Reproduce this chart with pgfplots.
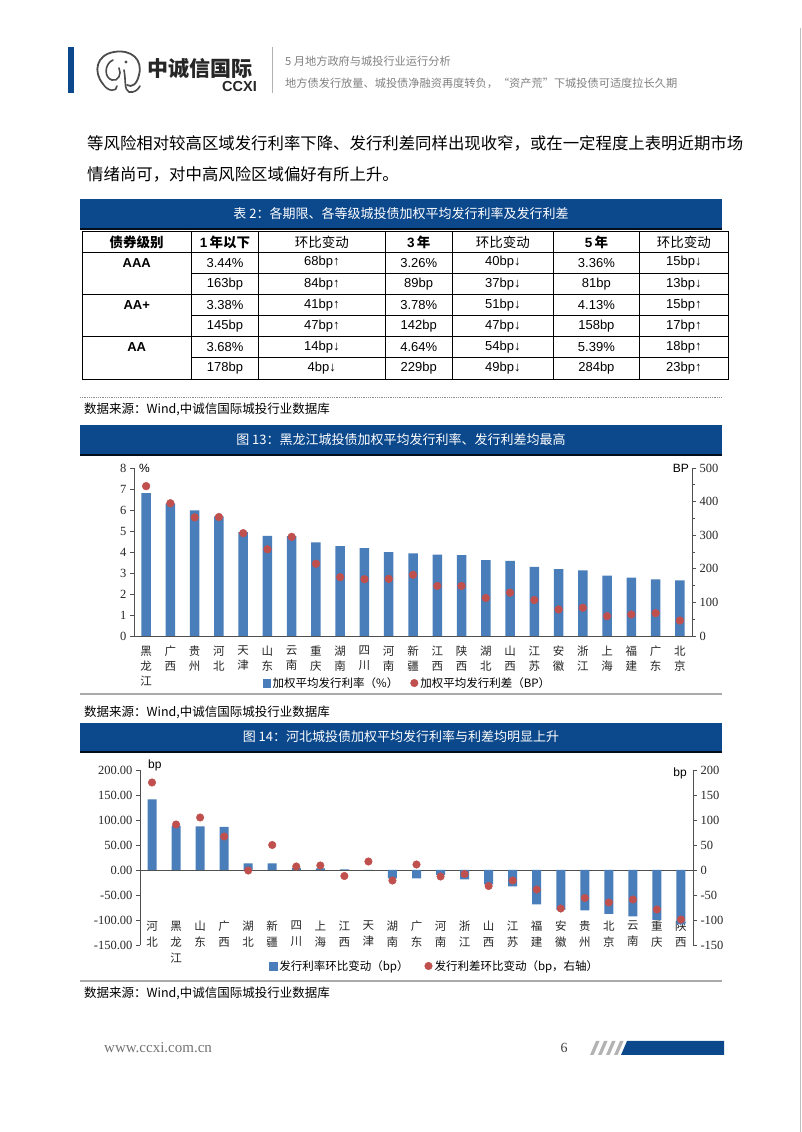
\documentclass[border=0pt]{standalone}
\usepackage{pgfplots}
\pgfplotsset{compat=1.18}
\usepackage{pgfplotstable}
\usepackage{fontspec}
\setmainfont{Liberation Serif}
\newfontfamily\cjk{Noto Sans CJK SC}
\newfontfamily\arial{Liberation Sans}
\newfontfamily\tnr{Liberation Serif}
\newcommand\fs[2]{\fontsize{#1pt}{#2pt}\selectfont}
\definecolor{titleblue}{RGB}{12,72,140}
\definecolor{barblue}{RGB}{74,126,187}
\definecolor{dotred}{RGB}{192,80,77}
\definecolor{hdrgrey}{RGB}{130,130,130}
\definecolor{axisgrey}{RGB}{80,80,80}
\definecolor{linegrey}{RGB}{170,170,170}

\pgfplotstableread{
idx rate spread
0 6.80 446
1 6.30 395
2 5.98 353
3 5.70 354
4 4.95 306
5 4.77 258
6 4.75 295
7 4.46 215
8 4.28 175
9 4.18 169
10 3.99 170
11 3.93 182
12 3.88 149
13 3.85 149
14 3.61 113
15 3.58 129
16 3.29 107
17 3.18 79
18 3.13 84
19 2.88 59
20 2.78 64
21 2.70 68
22 2.65 46
}\tabA

\pgfplotstableread{
idx rate spread
0 141 175
1 88 91
2 87 105
3 86 67
4 13 -1
5 13 50
6 4 7
7 3 9
8 1 -12
9 0 17
10 -17 -21
11 -17 11
12 -10 -13
13 -19 -8
14 -29 -32
15 -33 -21
16 -69 -39
17 -80 -77
18 -81 -56
19 -88 -65
20 -93 -59
21 -100 -79
22 -109 -99
}\tabB

\pgfplotsset{
  common/.style={
    scale only axis, enlargelimits=false, clip=false,
    xmin=-0.5, xmax=22.5,
    tick align=outside, major tick length=4pt, minor tick length=2.5pt,
    every tick/.style={axisgrey, line width=0.6pt},
    axis line style={axisgrey, line width=0.8pt},
    /pgf/number format/assume math mode=true,
    yticklabel style={font=\tnr\fs{12.5}{14}, text=black!85},
  },
}

\begin{document}
\begin{tikzpicture}
\path[use as bounding box, fill=white] (0,0) rectangle (802pt,1132pt);

\begin{scope}[x=1pt,y=-1pt,yshift=1132pt]
% page border
\draw[black!25, line width=0.8pt] (800.5,28) -- (800.5,1132);
% header
\fill[titleblue] (68,47) rectangle (74,93);
\draw[black!70, line width=1.8pt, line cap=round]
  (103,84) .. controls (93,72) and (96,55) .. (114,52)
  .. controls (132,49) and (143,60) .. (139,75)
  .. controls (137,84) and (132,88) .. (127,85);
\draw[black!70, line width=1.6pt, line cap=round]
  (113,60) .. controls (104,64) and (104,78) .. (112,80)
  .. controls (118,82) and (122,74) .. (119,68);
\draw[black!70, line width=1.6pt, line cap=round]
  (103,84) .. controls (108,92) and (117,92) .. (117,86)
  (124,70) .. controls (126,80) and (124,90) .. (129,92)
  .. controls (134,93) and (138,90) .. (140,86);
\fill[black!70] (126,62) circle (1.6);
\node[anchor=west, inner sep=0pt, text=black!85] at (147,69) {\cjk\bfseries\fs{21}{24}中诚信国际};
\node[anchor=east, inner sep=0pt, text=black!85] at (257,87) {\arial\bfseries\fs{14.5}{16}CCXI};
\draw[black!30, line width=0.8pt] (272,47) -- (272,93);
\node[anchor=west, inner sep=0pt, text=hdrgrey] at (285,61) {\cjk\fs{11.2}{13}5 月地方政府与城投行业运行分析};
\node[anchor=west, inner sep=0pt, text=hdrgrey] at (285,83) {\cjk\fs{11.2}{13}地方债发行放量、城投债净融资再度转负，“资产荒”下城投债可适度拉长久期};

% body text
\node[anchor=west, inner sep=0pt] at (87,143) {\cjk\fs{16.4}{20}等风险相对较高区域发行利率下降、发行利差同样出现收窄，或在一定程度上表明近期市场};
\node[anchor=west, inner sep=0pt] at (87,174) {\cjk\fs{16.4}{20}情绪尚可，对中高风险区域偏好有所上升。};

% table title
\fill[titleblue] (80,199) rectangle (722,229);
\draw[black!80!titleblue, line width=1.2pt] (80,229) -- (722,229);
\node[text=white, inner sep=0pt] at (401,213.5) {\cjk\fs{13}{15}表 2：各期限、各等级城投债加权平均发行利率及发行利差};

% table grid
\begin{scope}[line width=0.9pt, black]
\draw (82,231) rectangle (728,379);
\foreach \yy in {252.1,294.3,336.6} \draw (82,\yy) -- (728,\yy);
\foreach \yy in {273.2,315.4,357.7} \draw (191.4,\yy) -- (728,\yy);
\foreach \xx in {191.4,258.7,385,452.4,553.3,639.6} \draw (\xx,231) -- (\xx,379);
\end{scope}
\begin{scope}[every node/.style={inner sep=0pt}]
\node at (136.7,242) {\cjk\bfseries\fs{13.5}{15}债券级别};
\node at (225,242) {\arial\bfseries\fs{13.5}{15}1\,\cjk 年以下};
\node at (321.8,242) {\cjk\fs{13.5}{15}环比变动};
\node at (418.7,242) {\arial\bfseries\fs{13.5}{15}3\,\cjk 年};
\node at (502.8,242) {\cjk\fs{13.5}{15}环比变动};
\node at (596.4,242) {\arial\bfseries\fs{13.5}{15}5\,\cjk 年};
\node at (683.8,242) {\cjk\fs{13.5}{15}环比变动};
\node at (136.7,262.6) {\arial\bfseries\fs{13}{15}AAA};
\node at (136.7,304.8) {\arial\bfseries\fs{13}{15}AA+};
\node at (136.7,347.1) {\arial\bfseries\fs{13}{15}AA};
\foreach \r/\a/\b/\c/\d/\e/\f in {
 262.6/3.44\%/68bp↑/3.26\%/40bp↓/3.36\%/15bp↓,
 283.7/163bp/84bp↑/89bp/37bp↓/81bp/13bp↓,
 304.8/3.38\%/41bp↑/3.78\%/51bp↓/4.13\%/15bp↑,
 326.0/145bp/47bp↑/142bp/47bp↓/158bp/17bp↑,
 347.1/3.68\%/14bp↓/4.64\%/54bp↓/5.39\%/18bp↑,
 368.3/178bp/4bp↓/229bp/49bp↓/284bp/23bp↑}{
  \node at (225,\r) {\arial\fs{13}{15}\a};
  \node at (321.8,\r) {\arial\fs{13}{15}\b};
  \node at (418.7,\r) {\arial\fs{13}{15}\c};
  \node at (502.8,\r) {\arial\fs{13}{15}\d};
  \node at (596.4,\r) {\arial\fs{13}{15}\e};
  \node at (683.8,\r) {\arial\fs{13}{15}\f};
}
\end{scope}
\draw[black!45, densely dotted, line width=0.8pt] (80,397) -- (722,397);
\node[anchor=west, inner sep=0pt] at (84,409) {\cjk\fs{12.5}{14}数据来源：Wind,中诚信国际城投行业数据库};

% chart 13 title
\fill[titleblue] (80,425) rectangle (722,455);
\draw[black!80!titleblue, line width=1.2pt] (80,455) -- (722,455);
\node[text=white, inner sep=0pt] at (401,440) {\cjk\fs{13}{15}图 13：黑龙江城投债加权平均发行利率、发行利差均最高};
\draw[linegrey, line width=2pt] (80,694) -- (722,694);
\node[anchor=west, inner sep=0pt] at (84,712) {\cjk\fs{12.5}{14}数据来源：Wind,中诚信国际城投行业数据库};

% chart 14 title
\fill[titleblue] (80,723) rectangle (722,752);
\draw[black!80!titleblue, line width=1.2pt] (80,752) -- (722,752);
\node[text=white, inner sep=0pt] at (401,737) {\cjk\fs{13}{15}图 14：河北城投债加权平均发行利率与利差均明显上升};
\draw[linegrey, line width=2pt] (80,981) -- (722,981);
\node[anchor=west, inner sep=0pt] at (84,993) {\cjk\fs{12.5}{14}数据来源：Wind,中诚信国际城投行业数据库};

% footer
\node[anchor=west, inner sep=0pt, text=black!55] at (104,1048) {\tnr\fs{15}{17}www.ccxi.com.cn};
\node[inner sep=0pt, text=black!75] at (564,1048) {\tnr\fs{14}{16}6};
\foreach \k in {0,1,2,3} {
  \fill[black!30] ({590+8*\k},1055) -- ({596+8*\k},1041) -- ({599.5+8*\k},1041) -- ({593.5+8*\k},1055) -- cycle;
}
\fill[titleblue] (621,1055) -- (627,1041) -- (724,1041) -- (724,1055) -- cycle;
\end{scope}

% ---------- chart 13 ----------
\begin{axis}[common,
  at={(134pt,496pt)}, anchor=south west, width=558pt, height=168pt,
  ymin=0, ymax=8, ytick={0,1,...,8},
  axis y line*=left, axis x line*=bottom,
  xtick=data, xtick style={draw=none},
  xticklabels={{黑\\龙\\江},{广\\西},{贵\\州},{河\\北},{天\\津},{山\\东},{云\\南},{重\\庆},{湖\\南},{四\\川},{河\\南},{新\\疆},{江\\西},{陕\\西},{湖\\北},{山\\西},{江\\苏},{安\\徽},{浙\\江},{上\\海},{福\\建},{广\\东},{北\\京}},
  xticklabel style={align=center, font=\cjk\fs{11.5}{15}, inner sep=0pt, yshift=-6pt, text=black!85},
]
\addplot[ybar, bar width=9.5pt, bar shift=0pt, fill=barblue, draw=none] table[x=idx, y=rate] {\tabA};
\node[anchor=west, inner sep=0pt] at (rel axis cs:0,1) [xshift=5pt] {\arial\fs{12}{14}\%};
\end{axis}
\begin{axis}[common,
  at={(134pt,496pt)}, anchor=south west, width=558pt, height=168pt,
  ymin=0, ymax=500, ytick={0,100,...,500}, minor y tick num=1,
  axis y line*=right, axis x line=none, xtick=\empty,
  legend style={draw=none, fill=none, font=\cjk\fs{11.5}{14}, legend columns=2,
    at={(0.49,-0.28)}, anchor=center,
    /tikz/every even column/.append style={column sep=10pt}},
]
\addlegendimage{legend image code/.code={\fill[barblue] (0pt,-3.8pt) rectangle (7.6pt,3.8pt);}}
\addlegendentry{加权平均发行利率（\%）}
\addplot[only marks, mark=*, mark size=3.9pt, color=dotred,
  legend image code/.code={\fill[dotred] (3.8pt,0pt) circle (3.8pt);}] table[x=idx, y=spread] {\tabA};
\addlegendentry{加权平均发行利差（BP）}
\node[anchor=east, inner sep=0pt] at (rel axis cs:1,1) [xshift=-3pt] {\arial\fs{12}{14}BP};
\end{axis}

% ---------- chart 14 ----------
\begin{axis}[common,
  at={(140pt,187pt)}, anchor=south west, width=553pt, height=175pt,
  ymin=-150, ymax=200, ytick={-150,-100,...,200},
  yticklabel={\pgfmathprintnumber[fixed,fixed zerofill,precision=2]{\tick}},
  axis y line*=left, axis x line*=bottom, x axis line style={draw=none},
  xtick=data, xtick style={draw=none},
  xticklabels={{河\\北},{黑\\龙\\江},{山\\东},{广\\西},{湖\\北},{新\\疆},{四\\川},{上\\海},{江\\西},{天\\津},{湖\\南},{广\\东},{河\\南},{浙\\江},{山\\西},{江\\苏},{福\\建},{安\\徽},{贵\\州},{北\\京},{云\\南},{重\\庆},{陕\\西}},
  xticklabel style={align=center, font=\cjk\fs{11.5}{16}, inner sep=0pt, yshift=28pt, text=black!85},
  extra y ticks={0}, extra y tick labels={},
  extra y tick style={grid=major, major grid style={draw=axisgrey, line width=0.9pt}},
]
\addplot[ybar, bar width=9pt, bar shift=0pt, fill=barblue, draw=none] table[x=idx, y=rate] {\tabB};
\node[anchor=south west, inner sep=0pt] at (rel axis cs:0,1) [xshift=8pt, yshift=-1pt] {\arial\fs{12}{14}bp};
\end{axis}
\begin{axis}[common,
  at={(140pt,187pt)}, anchor=south west, width=553pt, height=175pt,
  ymin=-150, ymax=200, ytick={-150,-100,...,200},
  axis y line*=right, axis x line=none, xtick=\empty,
  legend style={draw=none, fill=none, font=\cjk\fs{11.5}{14}, legend columns=2,
    at={(0.533,-0.12)}, anchor=center,
    /tikz/every even column/.append style={column sep=14pt}},
]
\addlegendimage{legend image code/.code={\fill[barblue] (0pt,-3.8pt) rectangle (7.6pt,3.8pt);}}
\addlegendentry{发行利率环比变动（bp）}
\addplot[only marks, mark=*, mark size=3.8pt, color=dotred,
  legend image code/.code={\fill[dotred] (3.8pt,0pt) circle (3.8pt);}] table[x=idx, y=spread] {\tabB};
\addlegendentry{发行利差环比变动（bp，右轴）}
\node[anchor=east, inner sep=0pt] at (rel axis cs:1,1) [xshift=-6pt, yshift=-3pt] {\arial\fs{12}{14}bp};
\end{axis}
\end{tikzpicture}
\end{document}
